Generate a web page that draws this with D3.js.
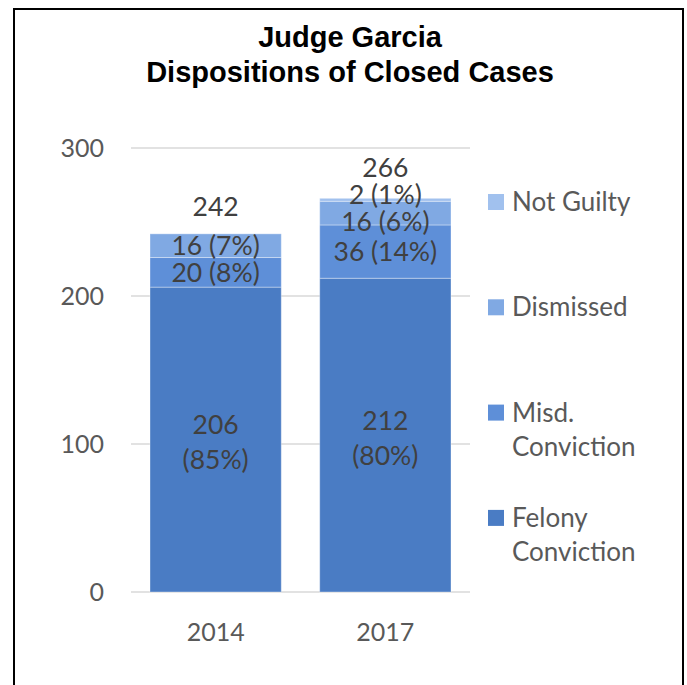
<!DOCTYPE html>
<html><head><meta charset="utf-8">
<script src="https://cdn.jsdelivr.net/npm/d3@7"></script>
<style>
html,body{margin:0;padding:0;background:#fff;}
svg{display:block;}
</style></head>
<body>
<svg id="chart" width="687" height="685"></svg>
<script>
const titleLines = ["Judge Garcia", "Dispositions of Closed Cases"];
const years = ["2014", "2017"];
const seriesNames = ["Felony Conviction", "Misd. Conviction", "Dismissed", "Not Guilty"];
const legendLines = [["Felony", "Conviction"], ["Misd.", "Conviction"], ["Dismissed"], ["Not Guilty"]];
const felony = [206, 212];
const misd = [20, 36];
const dismissed = [16, 16];
const notGuilty = [0, 2];
const felonyPct = ["85%", "80%"];
const misdPct = ["8%", "14%"];
const dismissedPct = ["7%", "6%"];
const notGuiltyPct = ["0%", "1%"];
const yTicks = [0, 100, 200, 300];
const colors = ["#4a7cc4", "#5e8fd8", "#80a9e3", "#a1c1ee"];

const svg = d3.select("#chart");

// border
svg.append("rect").attr("x", 14).attr("y", 9).attr("width", 669).attr("height", 690)
  .attr("fill", "none").attr("stroke", "#000").attr("stroke-width", 2);

// title
titleLines.forEach((t, i) => {
  svg.append("text").attr("x", 350).attr("y", 47 + i * 35)
    .attr("text-anchor", "middle")
    .attr("font-family", "Liberation Sans, Arial, sans-serif")
    .attr("font-weight", "bold").attr("font-size", 29).attr("fill", "#000")
    .text(t);
});

const y = d3.scaleLinear().domain([0, 300]).range([592, 148]);
const x = d3.scaleBand().domain(years).range([131, 470]).paddingInner(0.2265).paddingOuter(0.112);

const font = "Lato, 'Open Sans', sans-serif";

// gridlines
svg.append("g").selectAll("line").data(yTicks).join("line")
  .attr("x1", 131).attr("x2", 470)
  .attr("y1", d => y(d)).attr("y2", d => y(d))
  .attr("stroke", "#d9d9d9").attr("stroke-width", 1.5);

// y axis labels
const yAxis = d3.axisLeft(y).tickValues(yTicks).tickSize(0).tickPadding(0);
const ya = svg.append("g").attr("transform", "translate(104,0)").call(yAxis);
ya.select(".domain").remove();
ya.selectAll("text").attr("font-family", font).attr("font-size", 25).attr("fill", "#595959")
  .attr("dy", "0.35em");

// x axis labels
const xAxis = d3.axisBottom(x).tickSize(0).tickPadding(0);
const xa = svg.append("g").attr("transform", "translate(0,632)").call(xAxis);
xa.select(".domain").remove();
xa.selectAll("text").attr("font-family", font).attr("font-size", 25).attr("fill", "#595959")
  .attr("dy", "0.35em");

// stack
const rows = years.map((yr, i) => ({year: yr, f: felony[i], m: misd[i], d: dismissed[i], n: notGuilty[i]}));
const stack = d3.stack().keys(["f", "m", "d", "n"]);
const series = stack(rows);
const pcts = [felonyPct, misdPct, dismissedPct, notGuiltyPct];

svg.append("g").selectAll("g").data(series).join("g")
  .attr("fill", (d, i) => colors[i])
  .selectAll("rect").data(d => d).join("rect")
  .attr("x", d => x(d.data.year))
  .attr("width", x.bandwidth())
  .attr("y", d => y(d[1]))
  .attr("height", d => y(d[0]) - y(d[1]))
  .attr("stroke", "rgba(255,255,255,0.35)").attr("stroke-width", 1);

// labels
years.forEach((yr, i) => {
  const cx = x(yr) + x.bandwidth() / 2;
  const total = felony[i] + misd[i] + dismissed[i] + notGuilty[i];
  const fc = (y(0) + y(felony[i])) / 2;
  const lab = svg.append("g").attr("font-family", font).attr("font-size", 26.5).attr("fill", "#404040").attr("text-anchor", "middle");
  lab.append("text").attr("x", cx).attr("y", fc - 14.5).attr("dy", "0.35em").text(felony[i]);
  lab.append("text").attr("x", cx).attr("y", fc + 20.5).attr("dy", "0.35em").text("(" + felonyPct[i] + ")");
  const items = [];
  [1, 2, 3].forEach(k => {
    const s = series[k][i];
    if (s[1] - s[0] > 0) items.push({text: `${s[1] - s[0]} (${pcts[k][i]})`, yy: (y(s[0]) + y(s[1])) / 2});
  });
  items.push({text: String(total), yy: y(total) - 27});
  const gap = 27;
  for (let it = 0; it < 300; it++) {
    for (let j = 0; j < items.length - 1; j++) {
      const a = items[j], b = items[j + 1];
      const ov = gap - (a.yy - b.yy);
      if (ov > 0) { a.yy += ov / 2; b.yy -= ov / 2; }
    }
  }
  items.forEach(it => {
    lab.append("text").attr("x", cx).attr("y", it.yy).attr("dy", "0.35em").text(it.text);
  });
});

// legend
const lg = svg.append("g");
const order = [3, 2, 1, 0];
order.forEach((k, j) => {
  const cy = 202 + j * 105.3;
  lg.append("rect").attr("x", 488).attr("y", cy - 8).attr("width", 16).attr("height", 16).attr("fill", colors[k]);
  legendLines[k].forEach((ln, li) => {
    lg.append("text").attr("x", 512).attr("y", cy + li * 34).attr("dy", "0.35em")
      .attr("font-family", font).attr("font-size", 26).attr("fill", "#595959").text(ln);
  });
});
</script>
</body></html>
